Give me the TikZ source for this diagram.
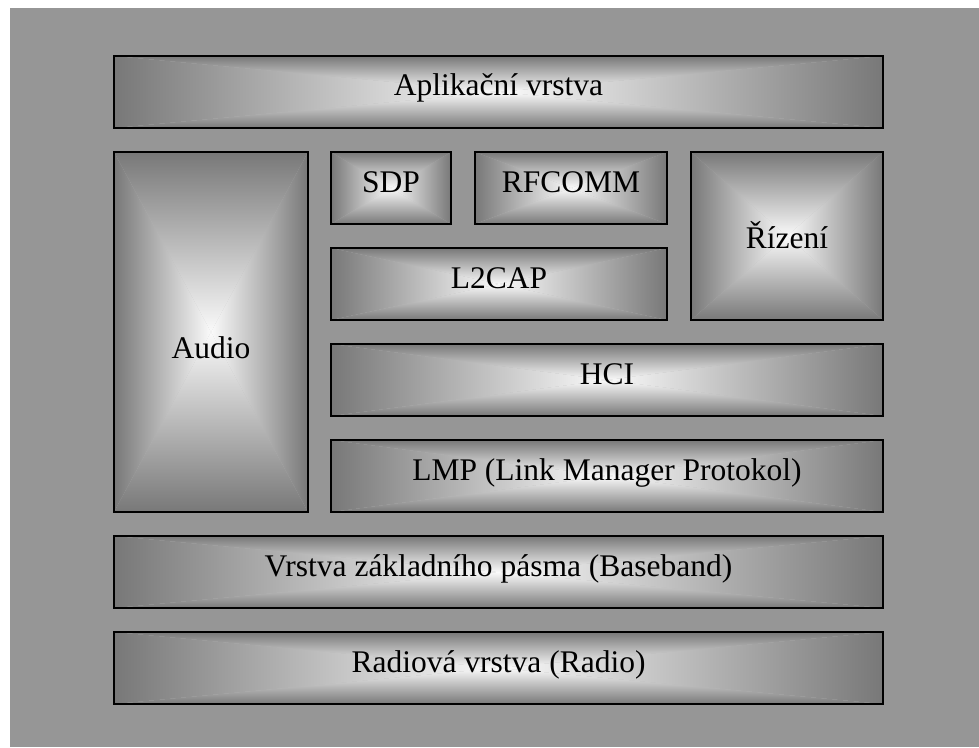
\documentclass[tikz,border=0pt]{standalone}
\usepackage{fontspec}
\setmainfont{LiberationSerif}[Extension=.ttf, UprightFont=*-Regular, BoldFont=*-Bold]
\definecolor{bggray}{RGB}{150,150,150}
\definecolor{edgegray}{RGB}{120,120,120}
\definecolor{centerwhite}{RGB}{250,250,250}
\tikzset{
  boxframe/.style={draw=black, line width=2pt, inner sep=0pt, outer sep=0pt,
    font=\rmfamily\fontsize{31.5}{36}\selectfont, text height=20pt, text depth=11pt, align=center},
}
% #1 extra options, #2 name, #3 x1, #4 y1, #5 x2, #6 y2, #7 text
\newcommand\gbox[7][]{%
  \pgfmathsetmacro\gcx{(#3+#5)/2}%
  \pgfmathsetmacro\gcy{(#4+#6)/2}%
  \pgfmathsetmacro\gw{#5-#3}%
  \pgfmathsetmacro\gh{#6-#4}%
  \fill[edgegray!50!centerwhite] (#3,#4) rectangle (#5,#6);
  \shade[left color=edgegray,right color=centerwhite] (#3,#4) -- (#3,#6) -- (\gcx,\gcy) -- cycle;
  \shade[right color=edgegray,left color=centerwhite] (#5,#4) -- (#5,#6) -- (\gcx,\gcy) -- cycle;
  \shade[top color=edgegray,bottom color=centerwhite] (#3,#4) -- (#5,#4) -- (\gcx,\gcy) -- cycle;
  \shade[bottom color=edgegray,top color=centerwhite] (#3,#6) -- (#5,#6) -- (\gcx,\gcy) -- cycle;
  \node[boxframe, minimum width=\gw pt, minimum height=\gh pt, #1] (#2) at (\gcx,\gcy) {#7};
}
\begin{document}
\begin{tikzpicture}[x=1pt,y=-1pt]
\useasboundingbox (0,0) rectangle (979,747);
\fill[bggray] (10,8) rectangle (979,747);
\gbox[text height=19pt, text depth=13pt]{app}{114}{56}{883}{128}{Aplikační vrstva}
\gbox[text height=60pt, text depth=8pt]{audio}{114}{152}{308}{512}{Audio}
\gbox{sdp}{331}{152}{451}{224}{SDP}
\gbox{rfcomm}{475}{152}{667}{224}{RFCOMM}
\gbox{l2cap}{331}{248}{667}{320}{L2CAP}
\gbox[text height=30pt, text depth=6pt]{rizeni}{691}{152}{883}{320}{Řízení}
\gbox{hci}{331}{344}{883}{416}{HCI}
\gbox{lmp}{331}{440}{883}{512}{LMP (Link Manager Protokol)}
\gbox{base}{114}{536}{883}{608}{Vrstva základního pásma (Baseband)}
\gbox{radio}{114}{632}{883}{704}{Radiová vrstva (Radio)}
\end{tikzpicture}
\end{document}
